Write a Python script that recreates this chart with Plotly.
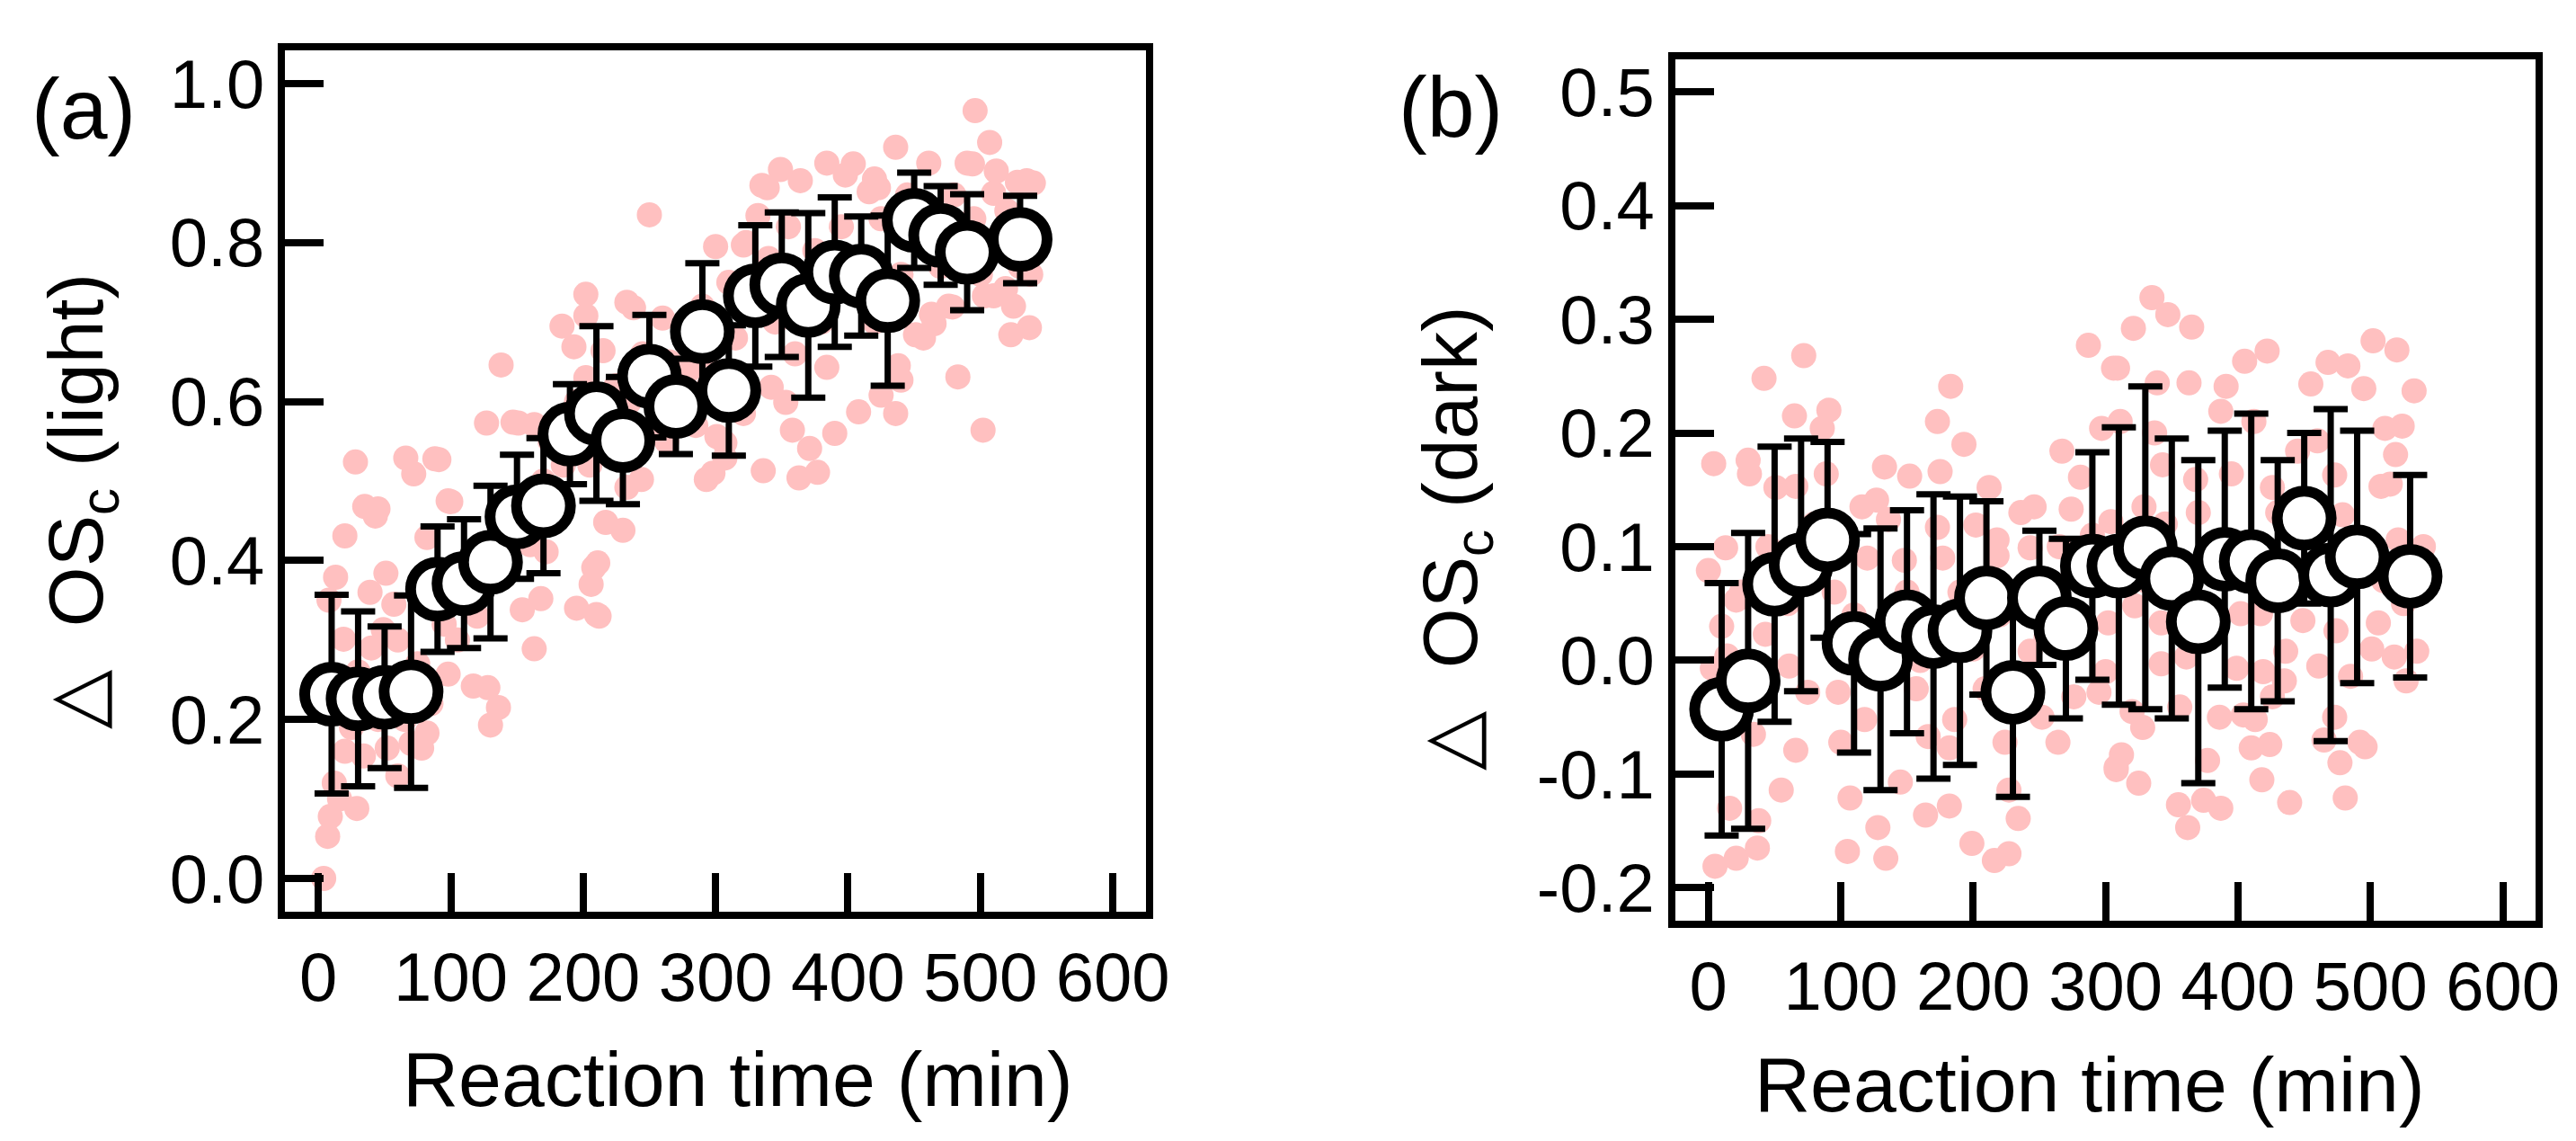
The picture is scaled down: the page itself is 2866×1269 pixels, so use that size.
import plotly.graph_objects as go

W, H = 2866, 1269
FONT = "Liberation Sans, Arial, sans-serif"
PINK = "#FFC0C0"

# ---------------- panel (a): light ----------------
time_a = [10, 30, 50, 70, 90, 110, 130, 150, 170, 190, 210, 230, 250, 270,
          290, 310, 330, 350, 370, 390, 410, 430, 450, 470, 490, 530]
light_mean = [0.232, 0.226, 0.228, 0.235, 0.364, 0.371, 0.398, 0.455, 0.469, 0.559,
              0.585, 0.551, 0.632, 0.594, 0.688, 0.614, 0.733, 0.747, 0.721, 0.763,
              0.758, 0.727, 0.828, 0.809, 0.788, 0.804]
light_err = [0.125, 0.110, 0.089, 0.121, 0.079, 0.081, 0.096, 0.078, 0.085, 0.063,
             0.110, 0.080, 0.077, 0.060, 0.086, 0.082, 0.089, 0.091, 0.116, 0.094,
             0.075, 0.107, 0.060, 0.062, 0.073, 0.055]

light_pts_t = [4, 7, 9, 29, 12, 16, 20, 34, 25, 15, 45, 52, 60, 65, 70, 78, 82, 85, 55, 30,
               40, 19, 60, 75, 49, 57, 8, 39, 13, 51, 20, 82, 43, 35, 45, 98, 72, 28, 66, 91,
               88, 100, 95, 105, 110, 98, 117, 128, 136, 130, 115, 120, 125, 140, 145, 127, 147, 138, 151, 155,
               160, 163, 154, 168, 163, 172, 170, 175, 180, 185, 184, 193, 188, 195, 195, 202, 202, 202, 205, 206,
               208, 210, 211, 212, 210, 215, 217, 220, 225, 230, 233, 233, 235, 238, 240, 244, 245, 250, 255, 258,
               260, 263, 265, 275, 280, 285, 290, 293, 293, 295, 298, 300, 301, 307, 307, 310, 315, 321, 321, 323,
               325, 332, 336, 335, 339, 340, 342, 345, 349, 353, 355, 358, 360, 363, 364, 371, 375, 377, 380, 384,
               384, 390, 395, 398, 400, 404, 408, 410, 416, 420, 420, 423, 425, 425, 436, 436, 438, 440, 440, 445,
               451, 455, 457, 461, 463, 465, 465, 470, 476, 479, 480, 483, 485, 490, 494, 495, 496, 500, 502, 503,
               507, 510, 510, 512, 515, 519, 520, 523, 525, 528, 530, 535, 535, 537, 538, 540]
light_pts_v = [0.000, 0.053, 0.078, 0.088, 0.120, 0.100, 0.160, 0.154, 0.190, 0.220, 0.200, 0.164, 0.129, 0.200, 0.170, 0.164, 0.183, 0.220, 0.240, 0.260,
               0.290, 0.301, 0.300, 0.270, 0.313, 0.345, 0.350, 0.360, 0.379, 0.384, 0.431, 0.429, 0.456, 0.468, 0.465, 0.475, 0.509, 0.524, 0.529, 0.527,
               0.528, 0.474, 0.320, 0.300, 0.360, 0.257, 0.242, 0.240, 0.215, 0.193, 0.400, 0.330, 0.420, 0.380, 0.450, 0.573, 0.574, 0.646, 0.573, 0.480,
               0.420, 0.289, 0.338, 0.352, 0.571, 0.411, 0.500, 0.550, 0.470, 0.520, 0.695, 0.669, 0.576, 0.340, 0.600, 0.630, 0.708, 0.735, 0.520, 0.370,
               0.391, 0.332, 0.397, 0.330, 0.580, 0.664, 0.448, 0.560, 0.620, 0.438, 0.492, 0.725, 0.600, 0.718, 0.550, 0.502, 0.660, 0.835, 0.620, 0.561,
               0.705, 0.550, 0.650, 0.600, 0.640, 0.570, 0.720, 0.502, 0.659, 0.620, 0.510, 0.795, 0.556, 0.529, 0.548, 0.750, 0.680, 0.585, 0.797, 0.800,
               0.720, 0.834, 0.513, 0.872, 0.869, 0.780, 0.618, 0.700, 0.892, 0.599, 0.820, 0.564, 0.660, 0.504, 0.878, 0.541, 0.790, 0.511, 0.700, 0.900,
               0.643, 0.560, 0.820, 0.885, 0.740, 0.899, 0.587, 0.780, 0.864, 0.700, 0.880, 0.869, 0.608, 0.830, 0.920, 0.585, 0.645, 0.627, 0.760, 0.860,
               0.684, 0.800, 0.680, 0.900, 0.710, 0.840, 0.698, 0.770, 0.720, 0.719, 0.860, 0.631, 0.790, 0.900, 0.899, 0.830, 0.966, 0.760, 0.564, 0.733,
               0.926, 0.862, 0.733, 0.890, 0.810, 0.742, 0.840, 0.684, 0.720, 0.876, 0.770, 0.878, 0.820, 0.693, 0.760, 0.875]

# ---------------- panel (b): dark ----------------
time_b = time_a
dark_mean = [-0.043, -0.018, 0.067, 0.084, 0.106, 0.015, 0.001, 0.034, 0.021, 0.026,
             0.055, -0.028, 0.055, 0.028, 0.083, 0.083, 0.099, 0.072, 0.034, 0.089,
             0.087, 0.070, 0.125, 0.075, 0.091, 0.074]
dark_err = [0.111, 0.130, 0.121, 0.111, 0.086, 0.096, 0.115, 0.098, 0.125, 0.118,
            0.085, 0.092, 0.059, 0.079, 0.100, 0.122, 0.142, 0.123, 0.142, 0.113,
            0.130, 0.106, 0.075, 0.146, 0.111, 0.089]

dark_pts_t = [72, 42, 287, 306, 183, 65, 91, 86, 173, 193, 267, 297, 4, 30, 31, 133, 152, 175, 51, 66,
              89, 116, 127, 212, 246, 274, 281, 236, 218, 13, 0, 21, 177, 148, 173, 202, 136, 218, 243, 43,
              61, 75, 98, 105, 34, 66, 100, 118, 186, 182, 224, 264, 308, 55, 16, 38, 107, 145, 128, 164,
              182, 199, 234, 227, 216, 105, 134, 21, 5, 37, 227, 276, 295, 166, 157, 252, 209, 243, 3, 14,
              275, 302, 335, 347, 321, 365, 309, 339, 363, 405, 422, 391, 387, 502, 520, 468, 483, 495, 455, 533,
              311, 337, 412, 460, 511, 524, 519, 343, 368, 395, 473, 508, 515, 426, 445, 479, 329, 370, 304, 322,
              342, 402, 417, 449, 474, 506, 521, 436, 461, 501, 518, 535, 527, 485, 342, 300, 361, 399, 419, 435,
              426, 320, 328, 356, 386, 413, 404, 312, 308, 325, 410, 424, 465, 473, 496, 477, 418, 377, 355, 374,
              387, 362, 439, 481, 492, 10, 25, 45, 60, 80, 95, 110, 120, 140, 150, 160, 190, 200, 220, 240,
              255, 265, 290, 315, 330, 345, 380, 430, 445, 470, 510, 525, 540]
dark_pts_v = [0.268, 0.248, 0.277, 0.257, 0.241, 0.215, 0.220, 0.204, 0.210, 0.190, 0.184, 0.204, 0.173, 0.176, 0.164, 0.170, 0.162, 0.166, 0.152, 0.153,
              0.164, 0.135, 0.141, 0.152, 0.135, 0.133, 0.161, 0.130, 0.106, 0.099, 0.079, 0.053, 0.090, 0.088, 0.117, 0.119, 0.124, 0.092, 0.099, 0.023,
              -0.005, -0.028, -0.028, 0.003, -0.065, -0.079, -0.072, -0.052, -0.052, -0.077, -0.072, -0.072, -0.094, -0.114, -0.130, -0.141, -0.121, -0.107, -0.147, -0.136,
              -0.128, -0.161, -0.139, -0.170, -0.176, -0.168, -0.174, -0.174, -0.181, -0.165, -0.114, -0.032, -0.028, -0.067, -0.025, -0.050, -0.025, 0.008, -0.007, 0.004,
              0.073, 0.033, 0.319, 0.304, 0.292, 0.293, 0.257, 0.244, 0.244, 0.263, 0.272, 0.241, 0.219, 0.281, 0.273, 0.262, 0.259, 0.239, 0.243, 0.237,
              0.210, 0.200, 0.210, 0.193, 0.204, 0.206, 0.181, 0.172, 0.159, 0.164, 0.163, 0.153, 0.155, 0.152, 0.184, 0.128, 0.135, 0.130, 0.122, 0.048,
              0.033, 0.041, 0.041, 0.035, 0.026, 0.033, 0.106, 0.008, -0.005, 0.010, 0.003, 0.008, -0.018, -0.014, -0.003, -0.010, 0.003, -0.007, -0.010, -0.018,
              -0.032, -0.045, -0.059, -0.041, -0.050, -0.052, -0.048, -0.083, -0.096, -0.108, -0.077, -0.074, -0.070, -0.050, -0.076, -0.090, -0.105, -0.088, -0.127, -0.123,
              -0.130, -0.147, -0.125, -0.121, -0.072, 0.030, 0.060, 0.100, 0.050, 0.120, 0.060, 0.040, 0.090, 0.020, 0.060, 0.000, 0.060, 0.010, 0.040, 0.060,
              0.020, 0.100, 0.110, 0.100, 0.070, 0.120, 0.100, 0.130, 0.070, 0.090, 0.070, 0.050, 0.100]

# tick labels
x_ticks = [0, 100, 200, 300, 400, 500, 600]
x_ticktext = ["0", "100", "200", "300", "400", "500", "600"]
ya_ticks = [0.0, 0.2, 0.4, 0.6, 0.8, 1.0]
ya_ticktext = ["0.0", "0.2", "0.4", "0.6", "0.8", "1.0"]
yb_ticks = [-0.2, -0.1, 0.0, 0.1, 0.2, 0.3, 0.4, 0.5]
yb_ticktext = ["-0.2", "-0.1", "0.0", "0.1", "0.2", "0.3", "0.4", "0.5"]

x_title = "Reaction time (min)"
ya_title = "\u25B3\u00a0\u00a0OS<sub>c</sub> (light)"
yb_title = "\u25B3\u00a0\u00a0OS<sub>c</sub> (dark)"

fig = go.Figure()

pink_marker = dict(size=28, color=PINK, line=dict(width=0))
mean_marker = dict(size=60, color="white", line=dict(color="black", width=12))


def err(arr):
    return dict(type="data", array=arr, visible=True, color="black", thickness=7, width=19)


fig.add_trace(go.Scatter(x=light_pts_t, y=light_pts_v, mode="markers", marker=pink_marker,
                         xaxis="x", yaxis="y", showlegend=False, hoverinfo="skip"))
fig.add_trace(go.Scatter(x=time_a, y=light_mean, mode="markers", marker=mean_marker,
                         error_y=err(light_err), xaxis="x", yaxis="y", showlegend=False))
fig.add_trace(go.Scatter(x=dark_pts_t, y=dark_pts_v, mode="markers", marker=pink_marker,
                         xaxis="x2", yaxis="y2", showlegend=False, hoverinfo="skip"))
fig.add_trace(go.Scatter(x=time_b, y=dark_mean, mode="markers", marker=mean_marker,
                         error_y=err(dark_err), xaxis="x2", yaxis="y2", showlegend=False))

axis_common = dict(showline=True, linecolor="black", linewidth=7.5, mirror=True,
                   ticks="inside", ticklen=43, tickwidth=7.5, tickcolor="black",
                   showgrid=False, zeroline=False, automargin=False,
                   tickfont=dict(family=FONT, size=76, color="black"))

xr = [-25.1, 624.9]
fig.update_layout(
    width=W, height=H,
    margin=dict(l=0, r=0, t=0, b=0),
    paper_bgcolor="white", plot_bgcolor="white",
    showlegend=False,
    xaxis=dict(domain=[309.25 / W, 1266.75 / W], range=xr, anchor="y",
               tickvals=x_ticks, ticktext=x_ticktext, **axis_common),
    yaxis=dict(domain=[1 - 1005.95 / H, 1 - 48.35 / H], range=[-0.0418, 1.0415], anchor="x",
               tickvals=ya_ticks, ticktext=ya_ticktext, **axis_common),
    xaxis2=dict(domain=[1855.75 / W, 2813.25 / W], range=xr, anchor="y2",
                tickvals=x_ticks, ticktext=x_ticktext, **axis_common),
    yaxis2=dict(domain=[1 - 1015.75 / H, 1 - 58.25 / H], range=[-0.2287, 0.5283], anchor="x2",
                tickvals=yb_ticks, ticktext=yb_ticktext, **axis_common),
)

ann_font = dict(family=FONT, size=86, color="black")
lab_font = dict(family=FONT, size=95, color="black")
annotations = [
    dict(text="(a)", x=85 / W, y=1 - 113 / H, font=lab_font),
    dict(text="(b)", x=1606 / W, y=1 - 111 / H, font=lab_font),
    dict(text=x_title, x=813 / W, y=1 - 1192 / H, font=ann_font),
    dict(text=x_title, x=2316.5 / W, y=1 - 1197.5 / H, font=ann_font),
    dict(text=ya_title, x=82 / W, y=1 - 550 / H, font=ann_font, textangle=-90),
    dict(text=yb_title, x=1611 / W, y=1 - 591 / H, font=ann_font, textangle=-90),
]
for a in annotations:
    a.update(xref="paper", yref="paper", xanchor="center", yanchor="middle", showarrow=False)
fig.update_layout(annotations=annotations)

fig.write_html("out.html")
